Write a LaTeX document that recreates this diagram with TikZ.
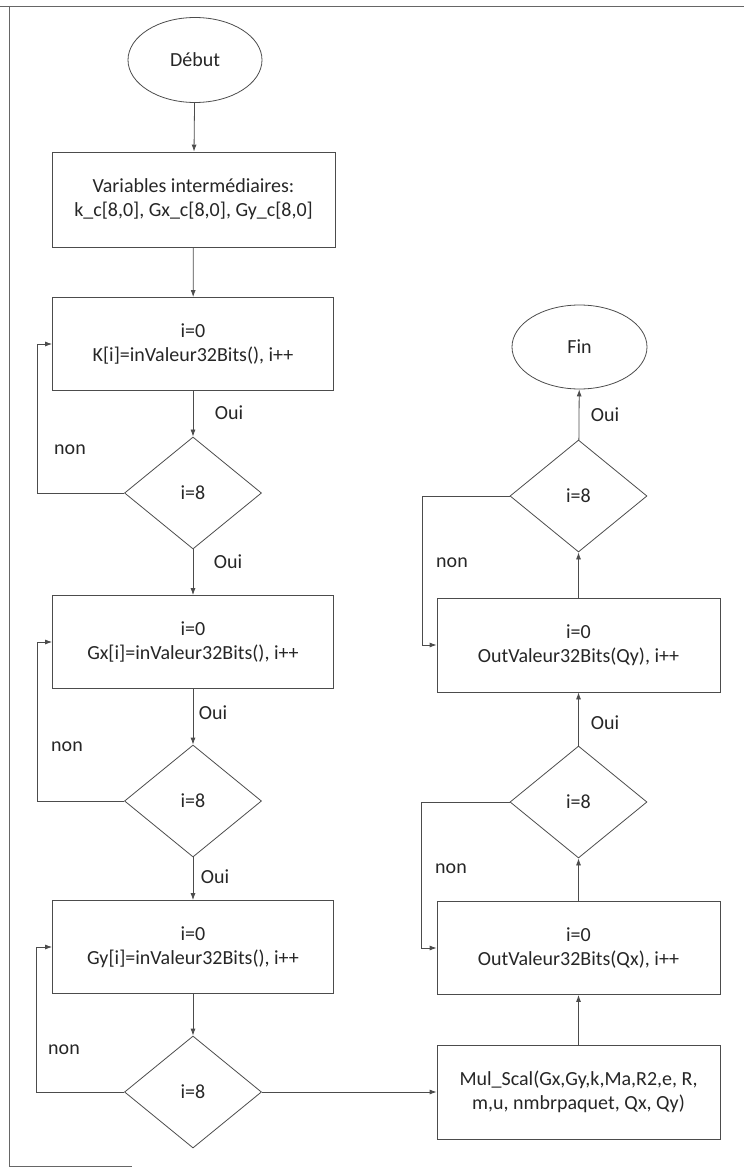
\documentclass[tikz,border=0pt]{standalone}
\usepackage{fontspec}
\setmainfont{Carlito}
\usetikzlibrary{shapes.geometric,arrows.meta}

\begin{document}
\begin{tikzpicture}[x=1pt,y=-1pt,
  every node/.style={text=black!85,font=\fontsize{20}{24}\selectfont},
  ln/.style={draw=black!70,line width=0.8pt},
  arr/.style={ln,-{Latex[length=7pt,width=5pt]}},
  term/.style={ln,ellipse,minimum width=134pt,minimum height=85pt,inner sep=0pt},
  proc/.style={ln,rectangle,minimum width=281pt,minimum height=93pt,inner sep=0pt,align=center},
  test/.style={ln,diamond,minimum width=137pt,minimum height=112pt,inner sep=0pt},
  lbl/.style={inner sep=0pt}]
\useasboundingbox (0,0) rectangle (744,1169);

% page frame
\draw[black!60,line width=0.8pt] (0,6) -- (744,6);
\draw[black!60,line width=0.8pt] (9,6) -- (9,1166) -- (132,1166);

% left column: reading the inputs
\node[term] (debut) at (195,60) {Début};
\node[proc,minimum width=283pt,minimum height=95pt] (vars) at (193.5,199.5)
  {Variables intermédiaires:\\k\_c[8,0], Gx\_c[8,0], Gy\_c[8,0]};
\node[proc] (k) at (193,344) {i=0\\K[i]=inValeur32Bits(), i++};
\node[test] (d1) at (193,493) {i=8};
\node[proc] (gx) at (193,642) {i=0\\Gx[i]=inValeur32Bits(), i++};
\node[test] (d2) at (193,801) {i=8};
\node[proc] (gy) at (193,947) {i=0\\Gy[i]=inValeur32Bits(), i++};
\node[test] (d3) at (193,1092) {i=8};

% right column: computing and writing the outputs
\node[proc,minimum width=283pt,minimum height=94pt] (mul) at (578.5,1092)
  {Mul\_Scal(Gx,Gy,k,Ma,R2,e, R,\\m,u, nmbrpaquet, Qx, Qy)};
\node[proc,minimum width=283pt] (qx) at (578.5,948) {i=0\\OutValeur32Bits(Qx), i++};
\node[test] (d4) at (578.5,802) {i=8};
\node[proc,minimum width=283pt,minimum height=94pt] (qy) at (578.5,645) {i=0\\OutValeur32Bits(Qy), i++};
\node[test] (d5) at (578.5,496) {i=8};
\node[term,minimum width=135pt,minimum height=84pt] (fin) at (579.5,347) {Fin};

% labels
\node[lbl] (o1) at (229,413) {Oui};
\node[lbl] (o2) at (228,562) {Oui};
\node[lbl] (o3) at (213,713) {Oui};
\node[lbl] (o4) at (215,877) {Oui};
\node[lbl] (n1) at (70,450) {non};
\node[lbl] (n2) at (67,747) {non};
\node[lbl] (n3) at (64,1050) {non};
\node[lbl] (o5) at (605,723) {Oui};
\node[lbl] (o6) at (605,415) {Oui};
\node[lbl] (n4) at (451,869) {non};
\node[lbl] (n5) at (452,563) {non};

% left column connectors
\draw[arr] (debut) -- (vars);
\draw[arr] (vars) -- (k);
\draw[arr] (k) -- (d1);
\draw[arr] (d1) -- (gx);
\draw[arr] (gx) -- (d2);
\draw[arr] (d2) -- (gy);
\draw[arr] (gy) -- (d3);
\draw[arr] (d1.west) -- ++(-87,0) |- (k.west);
\draw[arr] (d2.west) -- ++(-87,0) |- (gx.west);
\draw[arr] (d3.west) -- ++(-88,0) |- (gy.west);
\draw[arr] (d3.east) -- (mul.west);

% right column connectors
\draw[arr] (mul) -- (qx);
\draw[arr] (qx) -- (d4);
\draw[arr] (d4) -- (qy);
\draw[arr] (qy) -- (d5);
\draw[arr] (d5) -- (fin);
\draw[arr] (d4.west) -- ++(-88,0) |- (qx.west);
\draw[arr] (d5.west) -- ++(-87,0) |- (qy.west);
\end{tikzpicture}
\end{document}
